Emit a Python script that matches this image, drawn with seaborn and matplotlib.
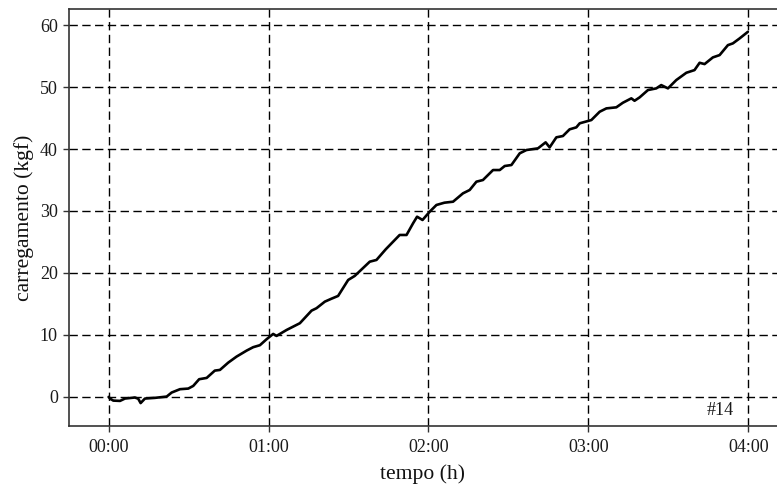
import numpy as np
import pandas as pd
import matplotlib
matplotlib.use("Agg")
import matplotlib.pyplot as plt
import seaborn as sns

# time in hours, load in kgf
tempo_h = [0.00, 0.008, 0.029, 0.071, 0.102, 0.164, 0.185, 0.200, 0.227, 0.289,
           0.363, 0.394, 0.446, 0.498, 0.529, 0.566, 0.613, 0.664, 0.696, 0.748,
           0.800, 0.863, 0.904, 0.946, 0.988, 1.029, 1.050, 1.113, 1.196, 1.269,
           1.300, 1.352, 1.394, 1.435, 1.498, 1.539, 1.633, 1.675, 1.733, 1.800,
           1.820, 1.863, 1.904, 1.929, 1.963, 2.008, 2.050, 2.100, 2.154, 2.216,
           2.258, 2.300, 2.341, 2.404, 2.446, 2.477, 2.519, 2.571, 2.613, 2.685,
           2.733, 2.758, 2.800, 2.841, 2.883, 2.925, 2.946, 3.019, 3.071, 3.113,
           3.175, 3.216, 3.269, 3.289, 3.321, 3.373, 3.425, 3.456, 3.498, 3.550,
           3.613, 3.664, 3.696, 3.727, 3.779, 3.821, 3.873, 3.904, 3.946, 3.998]
carga_kgf = [0.0, -0.27, -0.6, -0.65, -0.27, -0.1, -0.3, -1.0, -0.27, -0.16,
             0.05, 0.7, 1.24, 1.34, 1.77, 2.85, 3.06, 4.24, 4.35, 5.53,
             6.5, 7.47, 8.02, 8.34, 9.31, 10.16, 9.84, 10.8, 11.89, 13.92,
             14.31, 15.37, 15.85, 16.29, 18.87, 19.52, 21.82, 22.1, 23.82, 25.6,
             26.13, 26.13, 28.02, 29.08, 28.55, 29.89, 30.97, 31.34, 31.5, 32.85,
             33.39, 34.73, 35.0, 36.61, 36.61, 37.26, 37.42, 39.31, 39.84, 40.11,
             41.08, 40.27, 41.89, 42.1, 43.18, 43.5, 44.15, 44.68, 46.02, 46.56,
             46.73, 47.47, 48.18, 47.79, 48.34, 49.52, 49.79, 50.32, 49.79, 51.13,
             52.31, 52.74, 53.92, 53.71, 54.79, 55.16, 56.77, 57.05, 57.85, 58.92]

x_ticks = [0, 1, 2, 3, 4]
x_tick_labels = ["00:00", "01:00", "02:00", "03:00", "04:00"]
y_ticks = [0, 10, 20, 30, 40, 50, 60]
sample_label = "#14"

sns.set_style("ticks")
plt.rcParams["font.family"] = ["Liberation Serif", "DejaVu Serif"]

df = pd.DataFrame({"tempo": tempo_h, "carga": carga_kgf})

fig = plt.figure(figsize=(7.77, 4.84), dpi=100)
ax = fig.add_axes([69 / 777, 58 / 484, 708 / 777, 417 / 484])

sns.lineplot(data=df, x="tempo", y="carga", ax=ax, color="black",
             linewidth=1.9, estimator=None, sort=False)

ax.set_xlim(-0.248, 4.18)
ax.set_ylim(-4.7, 62.6)
ax.set_xticks(x_ticks)
ax.set_xticklabels(x_tick_labels)
ax.set_yticks(y_ticks)

ax.grid(True, color="black", linestyle=(0, (6.0, 3.2)), linewidth=1.0)
ax.set_axisbelow(True)

for side in ["left", "bottom", "top"]:
    ax.spines[side].set_color("#333333")
    ax.spines[side].set_linewidth(1.2)
ax.spines["right"].set_visible(False)

ax.tick_params(axis="both", direction="out", length=4, width=1,
               color="#333333", labelsize=13, labelcolor="#1a1a1a")
ax.tick_params(axis="y", pad=4)
ax.tick_params(axis="x", pad=5)

ax.set_xlabel("tempo (h)", fontsize=15.6, color="#111111", labelpad=6)
ax.set_ylabel("carregamento (kgf)", fontsize=15.6, color="#111111", labelpad=4)

ax.text(0.92, 0.036, sample_label, transform=ax.transAxes, ha="center",
        va="center", fontsize=13, color="#1a1a1a")

fig.savefig("out.png", dpi=100)
